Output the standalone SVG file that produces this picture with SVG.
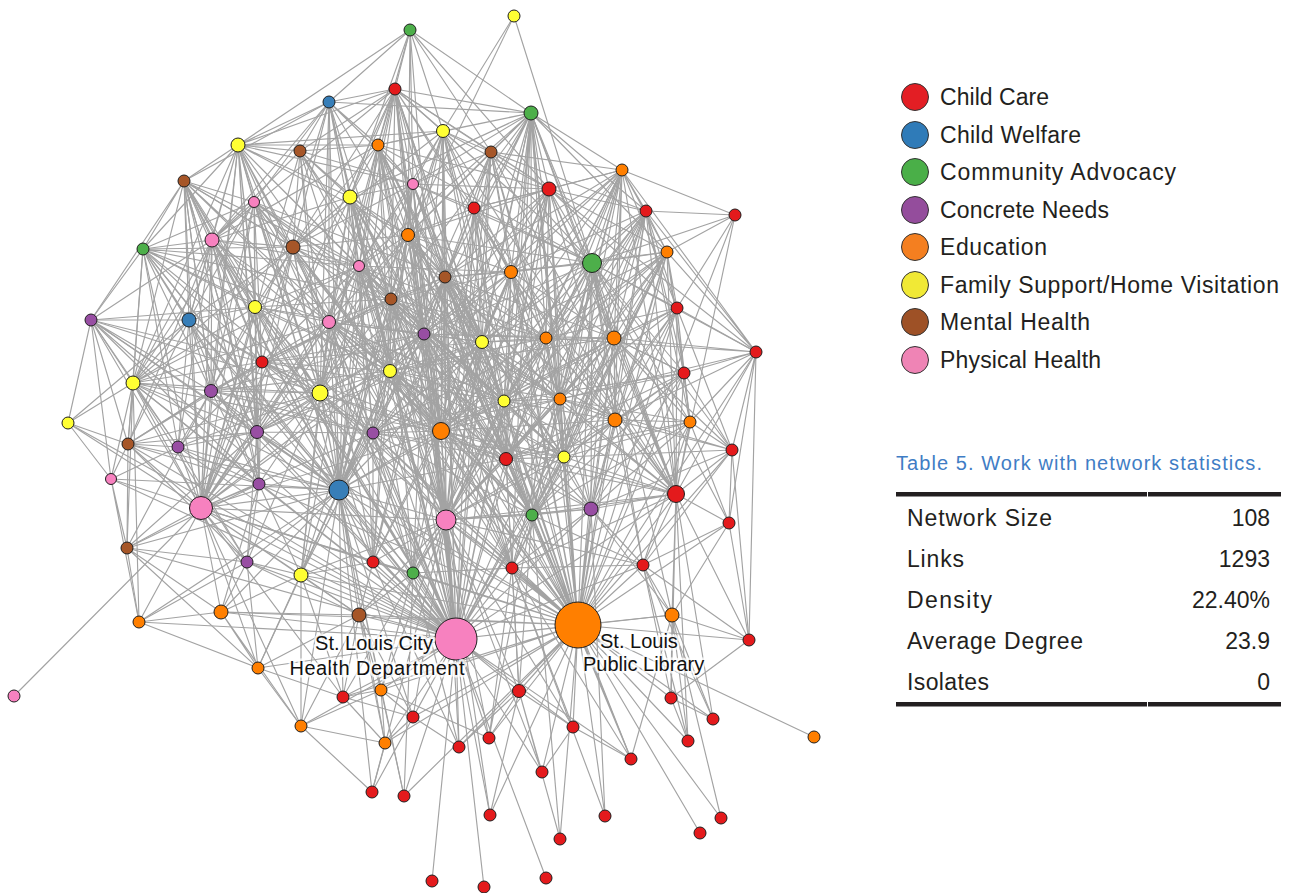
<svg xmlns="http://www.w3.org/2000/svg" width="1289" height="893" viewBox="0 0 1289 893">
<style>
.e{fill:none;stroke:#a3a3a3;stroke-width:1.15;stroke-linejoin:round}
.nd circle{stroke:#1e1e1e;stroke-width:1}
.r{fill:#e41a1c}.b{fill:#377eb8}.g{fill:#4daf4a}.p{fill:#984ea3}.o{fill:#ff7f00}.y{fill:#ffff33}.w{fill:#a65628}.k{fill:#f781bf}
.t{font-family:"Liberation Sans",Arial,sans-serif;fill:#231f20}
.lbl{font-family:"Liberation Sans",Arial,sans-serif;font-size:20px;fill:#111;stroke:#fff;stroke-width:5;stroke-opacity:0.75;stroke-linejoin:round;paint-order:stroke}
.lg circle{stroke:#333;stroke-width:1}
</style>
<rect width="1289" height="893" fill="#fff"/>
<g id="connectors">
<path class="e" d="M456 639L395 89 456 639 329 102 456 639 443 131 456 639 238 145 456 639 300 151 456 639 378 145 456 639 491 152 456 639 184 181 456 639 413 184 456 639 549 189 456 639 350 197 456 639 254 202 456 639 474 208 456 639 212 240 456 639 408 235 456 639 293 247 456 639 143 249 456 639 667 252 456 639 359 266 456 639 511 272 456 639 445 277 456 639 391 299 456 639 255 307 456 639 91 320 456 639 189 320 456 639 329 322 456 639 424 334 456 639 482 342 456 639 546 338 456 639 614 338 456 639 262 362 456 639 390 371 456 639 133 383 456 639 211 391 456 639 320 393 456 639 560 399 456 639 504 401 456 639 68 423 456 639 128 444 456 639 178 447 456 639 257 432 456 639 373 433 456 639 441 431 456 639 506 459 456 639 564 457 456 639 111 479 456 639 259 484 456 639 339 490 456 639 201 508 456 639 446 520 456 639 532 515 456 639 591 509 456 639 676 494 456 639 127 548 456 639 247 562 456 639 301 575 456 639 373 562 456 639 413 573 456 639 512 568 456 639 643 565 456 639 139 622 456 639 221 612 456 639 359 615 456 639 672 615 456 639 578 625 456 639 258 668 456 639 343 697 456 639 381 690 456 639 519 691 456 639 301 726 456 639 413 717 456 639 385 743 456 639 459 747 456 639 489 738 456 639 573 727 456 639 631 759 456 639 542 772 456 639 372 792 456 639 404 796 456 639 490 815 456 639 432 881 456 639 484 887 456 639 546 878"/>
<path class="e" d="M578 625L531 113 578 625 443 131 578 625 378 145 578 625 491 152 578 625 622 170 578 625 413 184 578 625 549 189 578 625 474 208 578 625 646 211 578 625 735 215 578 625 408 235 578 625 293 247 578 625 667 252 578 625 592 263 578 625 511 272 578 625 445 277 578 625 329 322 578 625 677 308 578 625 424 334 578 625 482 342 578 625 546 338 578 625 614 338 578 625 756 352 578 625 262 362 578 625 684 373 578 625 390 371 578 625 320 393 578 625 560 399 578 625 504 401 578 625 615 420 578 625 690 422 578 625 257 432 578 625 373 433 578 625 441 431 578 625 506 459 578 625 564 457 578 625 732 450 578 625 259 484 578 625 339 490 578 625 201 508 578 625 446 520 578 625 532 515 578 625 591 509 578 625 676 494 578 625 729 523 578 625 301 575 578 625 373 562 578 625 413 573 578 625 512 568 578 625 643 565 578 625 221 612 578 625 359 615 578 625 672 615 578 625 749 640 578 625 343 697 578 625 381 690 578 625 519 691 578 625 671 698 578 625 413 717 578 625 385 743 578 625 459 747 578 625 489 738 578 625 573 727 578 625 713 719 578 625 688 741 578 625 814 737 578 625 631 759 578 625 542 772 578 625 404 796 578 625 490 815 578 625 605 816 578 625 560 839 578 625 700 833 578 625 721 818 578 625 395 89 578 625 238 145 578 625 391 299 578 625 359 266"/>
<path class="e" d="M339 490L395 89 339 490 329 102 339 490 238 145 339 490 300 151 339 490 378 145 339 490 184 181 339 490 350 197 339 490 254 202 339 490 212 240 339 490 293 247 339 490 143 249 339 490 359 266 339 490 391 299 339 490 255 307 339 490 91 320 339 490 189 320 339 490 329 322 339 490 424 334 339 490 262 362 339 490 390 371 339 490 133 383 339 490 211 391 339 490 320 393 339 490 128 444 339 490 178 447 339 490 257 432 339 490 373 433 339 490 441 431 339 490 111 479 339 490 259 484 339 490 201 508 339 490 446 520 339 490 127 548 339 490 247 562 339 490 301 575 339 490 373 562 339 490 413 573 339 490 139 622 339 490 221 612 339 490 359 615 339 490 258 668 339 490 343 697 339 490 381 690 339 490 301 726 339 490 413 717 339 490 385 743 339 490 372 792 339 490 404 796 339 490 413 184 339 490 408 235 339 490 445 277 339 490 482 342 339 490 504 401 339 490 506 459 339 490 549 189 339 490 491 152 339 490 443 131 339 490 459 747"/>
<path class="e" d="M201 508L329 102 201 508 238 145 201 508 184 181 201 508 254 202 201 508 212 240 201 508 293 247 201 508 143 249 201 508 255 307 201 508 91 320 201 508 189 320 201 508 262 362 201 508 133 383 201 508 211 391 201 508 320 393 201 508 68 423 201 508 128 444 201 508 178 447 201 508 257 432 201 508 111 479 201 508 259 484 201 508 446 520 201 508 127 548 201 508 247 562 201 508 301 575 201 508 139 622 201 508 221 612 201 508 258 668 201 508 14 696 201 508 359 266 201 508 350 197 201 508 329 322 201 508 390 371 201 508 373 433 201 508 373 562 201 508 413 573 201 508 359 615 201 508 301 726 201 508 395 89 201 508 300 151 201 508 408 235 201 508 441 431 201 508 424 334 201 508 343 697"/>
<path class="e" d="M446 520L395 89 446 520 531 113 446 520 443 131 446 520 378 145 446 520 491 152 446 520 413 184 446 520 549 189 446 520 350 197 446 520 474 208 446 520 408 235 446 520 592 263 446 520 359 266 446 520 511 272 446 520 445 277 446 520 391 299 446 520 329 322 446 520 424 334 446 520 482 342 446 520 546 338 446 520 390 371 446 520 320 393 446 520 560 399 446 520 504 401 446 520 373 433 446 520 441 431 446 520 506 459 446 520 564 457 446 520 532 515 446 520 591 509 446 520 676 494 446 520 301 575 446 520 373 562 446 520 413 573 446 520 512 568 446 520 643 565 446 520 359 615 446 520 343 697 446 520 381 690 446 520 519 691 446 520 413 717 446 520 459 747 446 520 489 738 446 520 542 772 446 520 622 170 446 520 646 211 446 520 293 247 446 520 614 338 446 520 615 420 446 520 372 792 446 520 490 815 446 520 573 727"/>
<path class="e" d="M441 431L410 30 441 431 395 89 441 431 531 113 441 431 443 131 441 431 378 145 441 431 491 152 441 431 413 184 441 431 549 189 441 431 350 197 441 431 474 208 441 431 212 240 441 431 408 235 441 431 293 247 441 431 592 263 441 431 359 266 441 431 511 272 441 431 445 277 441 431 391 299 441 431 329 322 441 431 424 334 441 431 482 342 441 431 546 338 441 431 390 371 441 431 320 393 441 431 560 399 441 431 504 401 441 431 373 433 441 431 506 459 441 431 564 457 441 431 532 515 441 431 591 509 441 431 676 494 441 431 373 562 441 431 413 573 441 431 512 568 441 431 622 170 441 431 667 252 441 431 614 338 441 431 262 362 441 431 211 391 441 431 615 420"/>
<path class="e" d="M592 263L514 16 592 263 531 113 592 263 443 131 592 263 491 152 592 263 622 170 592 263 549 189 592 263 474 208 592 263 646 211 592 263 735 215 592 263 667 252 592 263 511 272 592 263 445 277 592 263 677 308 592 263 482 342 592 263 546 338 592 263 614 338 592 263 756 352 592 263 684 373 592 263 560 399 592 263 504 401 592 263 615 420 592 263 690 422 592 263 506 459 592 263 564 457 592 263 732 450 592 263 532 515 592 263 591 509 592 263 676 494 592 263 729 523 592 263 512 568 592 263 643 565 592 263 672 615 592 263 395 89 592 263 378 145 592 263 413 184 592 263 408 235 592 263 424 334"/>
<path class="e" d="M676 494L531 113 676 494 622 170 676 494 549 189 676 494 646 211 676 494 735 215 676 494 667 252 676 494 677 308 676 494 614 338 676 494 756 352 676 494 684 373 676 494 560 399 676 494 615 420 676 494 690 422 676 494 506 459 676 494 564 457 676 494 732 450 676 494 532 515 676 494 591 509 676 494 729 523 676 494 512 568 676 494 643 565 676 494 672 615 676 494 749 640 676 494 671 698 676 494 713 719 676 494 688 741 676 494 546 338 676 494 482 342 676 494 511 272 676 494 504 401 676 494 491 152 676 494 474 208 676 494 443 131"/>
<path class="e" d="M320 393L395 89 320 393 329 102 320 393 238 145 320 393 300 151 320 393 184 181 320 393 350 197 320 393 254 202 320 393 212 240 320 393 293 247 320 393 359 266 320 393 391 299 320 393 255 307 320 393 91 320 320 393 189 320 320 393 329 322 320 393 424 334 320 393 262 362 320 393 390 371 320 393 133 383 320 393 211 391 320 393 128 444 320 393 178 447 320 393 257 432 320 393 373 433 320 393 259 484 320 393 247 562 320 393 301 575 320 393 373 562 320 393 143 249 320 393 378 145 320 393 413 184 320 393 408 235"/>
<path class="e" d="M531 113L410 30 531 113 395 89 531 113 329 102 531 113 443 131 531 113 378 145 531 113 491 152 531 113 622 170 531 113 413 184 531 113 549 189 531 113 350 197 531 113 474 208 531 113 646 211 531 113 408 235 531 113 667 252 531 113 511 272 531 113 445 277 531 113 482 342 531 113 546 338 531 113 614 338 531 113 560 399 531 113 504 401 531 113 506 459 531 113 564 457 531 113 532 515 531 113 591 509 531 113 512 568 531 113 359 266 531 113 391 299 531 113 424 334"/>
<path class="e" d="M238 145L410 30 238 145 329 102 238 145 300 151 238 145 378 145 238 145 184 181 238 145 350 197 238 145 254 202 238 145 212 240 238 145 293 247 238 145 143 249 238 145 359 266 238 145 391 299 238 145 255 307 238 145 189 320 238 145 329 322 238 145 262 362 238 145 133 383 238 145 211 391 238 145 395 89 238 145 443 131 238 145 413 184 238 145 408 235 238 145 257 432 238 145 259 484"/>
<path class="e" d="M133 383L184 181 133 383 212 240 133 383 293 247 133 383 143 249 133 383 255 307 133 383 91 320 133 383 189 320 133 383 262 362 133 383 211 391 133 383 68 423 133 383 128 444 133 383 178 447 133 383 257 432 133 383 111 479 133 383 259 484 133 383 127 548 133 383 247 562 133 383 139 622 133 383 254 202 133 383 359 266 133 383 329 322 133 383 373 433"/>
<path class="e" d="M293 247L395 89 293 247 329 102 293 247 300 151 293 247 378 145 293 247 184 181 293 247 350 197 293 247 254 202 293 247 212 240 293 247 143 249 293 247 359 266 293 247 391 299 293 247 255 307 293 247 189 320 293 247 329 322 293 247 262 362 293 247 390 371 293 247 211 391 293 247 257 432 293 247 413 184 293 247 408 235 293 247 424 334 293 247 443 131"/>
<path class="e" d="M212 240L329 102 212 240 300 151 212 240 184 181 212 240 254 202 212 240 143 249 212 240 255 307 212 240 91 320 212 240 189 320 212 240 262 362 212 240 211 391 212 240 128 444 212 240 178 447 212 240 257 432 212 240 259 484 212 240 350 197 212 240 359 266 212 240 329 322 212 240 378 145 212 240 395 89"/>
<path class="e" d="M549 189L410 30 549 189 395 89 549 189 443 131 549 189 491 152 549 189 622 170 549 189 413 184 549 189 474 208 549 189 646 211 549 189 667 252 549 189 511 272 549 189 445 277 549 189 677 308 549 189 482 342 549 189 546 338 549 189 614 338 549 189 560 399 549 189 504 401 549 189 506 459 549 189 564 457 549 189 408 235 549 189 378 145 549 189 424 334 549 189 615 420"/>
<path class="e" d="M395 89L410 30 395 89 329 102 395 89 443 131 395 89 300 151 395 89 378 145 395 89 491 152 395 89 413 184 395 89 350 197 395 89 474 208 395 89 408 235 395 89 359 266 395 89 445 277 395 89 391 299 395 89 424 334 395 89 390 371 395 89 482 342 395 89 511 272"/>
<path class="e" d="M329 102L410 30 329 102 300 151 329 102 378 145 329 102 184 181 329 102 350 197 329 102 254 202 329 102 408 235 329 102 359 266 329 102 391 299 329 102 329 322 329 102 390 371 329 102 413 184"/>
<path class="e" d="M443 131L410 30 443 131 514 16 443 131 378 145 443 131 491 152 443 131 413 184 443 131 474 208 443 131 408 235 443 131 359 266 443 131 511 272 443 131 445 277 443 131 424 334 443 131 482 342 443 131 390 371 443 131 504 401"/>
<path class="e" d="M378 145L410 30 378 145 300 151 378 145 413 184 378 145 350 197 378 145 408 235 378 145 359 266 378 145 445 277 378 145 391 299 378 145 424 334 378 145 390 371 378 145 329 322"/>
<path class="e" d="M491 152L622 170 491 152 413 184 491 152 474 208 491 152 646 211 491 152 408 235 491 152 511 272 491 152 445 277 491 152 482 342 491 152 546 338 491 152 560 399"/>
<path class="e" d="M622 170L474 208 622 170 646 211 622 170 735 215 622 170 667 252 622 170 511 272 622 170 677 308 622 170 546 338 622 170 614 338 622 170 560 399 622 170 615 420 622 170 564 457 622 170 532 515"/>
<path class="e" d="M184 181L254 202 184 181 143 249 184 181 255 307 184 181 91 320 184 181 189 320 184 181 262 362 184 181 211 391 184 181 257 432"/>
<path class="e" d="M413 184L350 197 413 184 474 208 413 184 408 235 413 184 359 266 413 184 445 277 413 184 391 299 413 184 424 334 413 184 390 371 413 184 482 342"/>
<path class="e" d="M350 197L408 235 350 197 359 266 350 197 391 299 350 197 329 322 350 197 424 334 350 197 390 371 350 197 373 433"/>
<path class="e" d="M254 202L143 249 254 202 359 266 254 202 255 307 254 202 189 320 254 202 329 322 254 202 262 362 254 202 211 391 254 202 257 432"/>
<path class="e" d="M474 208L408 235 474 208 511 272 474 208 445 277 474 208 424 334 474 208 482 342 474 208 546 338 474 208 560 399 474 208 504 401 474 208 506 459"/>
<path class="e" d="M646 211L735 215 646 211 667 252 646 211 677 308 646 211 546 338 646 211 614 338 646 211 684 373 646 211 560 399 646 211 615 420 646 211 564 457 646 211 690 422"/>
<path class="e" d="M735 215L667 252 735 215 677 308"/>
<path class="e" d="M408 235L359 266 408 235 445 277 408 235 391 299 408 235 329 322 408 235 424 334 408 235 390 371 408 235 373 433 408 235 482 342 408 235 504 401"/>
<path class="e" d="M143 249L255 307 143 249 91 320 143 249 189 320 143 249 262 362 143 249 211 391 143 249 128 444 143 249 178 447 143 249 257 432"/>
<path class="e" d="M667 252L677 308 667 252 614 338 667 252 684 373 667 252 560 399 667 252 615 420 667 252 690 422 667 252 564 457 667 252 532 515 667 252 591 509 667 252 546 338"/>
<path class="e" d="M359 266L391 299 359 266 329 322 359 266 424 334 359 266 390 371 359 266 373 433 359 266 262 362"/>
<path class="e" d="M511 272L445 277 511 272 482 342 511 272 546 338 511 272 560 399 511 272 504 401 511 272 506 459 511 272 564 457"/>
<path class="e" d="M445 277L391 299 445 277 424 334 445 277 482 342 445 277 390 371 445 277 504 401 445 277 373 433 445 277 506 459"/>
<path class="e" d="M391 299L329 322 391 299 424 334 391 299 390 371 391 299 373 433"/>
<path class="e" d="M255 307L189 320 255 307 329 322 255 307 262 362 255 307 211 391 255 307 257 432 255 307 259 484"/>
<path class="e" d="M91 320L189 320 91 320 68 423 91 320 128 444 91 320 111 479 91 320 262 362"/>
<path class="e" d="M189 320L262 362 189 320 211 391 189 320 128 444 189 320 178 447 189 320 257 432 189 320 259 484"/>
<path class="e" d="M329 322L424 334 329 322 262 362 329 322 390 371 329 322 257 432 329 322 373 433"/>
<path class="e" d="M677 308L614 338 677 308 756 352 677 308 684 373 677 308 615 420 677 308 690 422 677 308 732 450"/>
<path class="e" d="M424 334L482 342 424 334 390 371 424 334 504 401 424 334 373 433 424 334 506 459"/>
<path class="e" d="M482 342L546 338 482 342 560 399 482 342 504 401 482 342 506 459 482 342 564 457"/>
<path class="e" d="M546 338L614 338 546 338 560 399 546 338 504 401 546 338 615 420 546 338 564 457 546 338 532 515"/>
<path class="e" d="M614 338L684 373 614 338 560 399 614 338 615 420 614 338 690 422 614 338 564 457 614 338 532 515 614 338 591 509"/>
<path class="e" d="M756 352L684 373 756 352 690 422 756 352 732 450 756 352 729 523 756 352 749 640 756 352 667 252 756 352 646 211 756 352 622 170 756 352 614 338 756 352 615 420 756 352 546 338 756 352 560 399 756 352 549 189"/>
<path class="e" d="M262 362L211 391 262 362 178 447 262 362 257 432 262 362 259 484 262 362 390 371"/>
<path class="e" d="M684 373L615 420 684 373 690 422 684 373 732 450 684 373 564 457 684 373 560 399"/>
<path class="e" d="M390 371L504 401 390 371 257 432 390 371 373 433 390 371 506 459 390 371 373 562"/>
<path class="e" d="M211 391L178 447 211 391 257 432 211 391 259 484 211 391 128 444"/>
<path class="e" d="M560 399L504 401 560 399 615 420 560 399 506 459 560 399 564 457 560 399 532 515 560 399 591 509"/>
<path class="e" d="M504 401L506 459 504 401 564 457 504 401 532 515"/>
<path class="e" d="M615 420L690 422 615 420 564 457 615 420 532 515 615 420 591 509 615 420 643 565"/>
<path class="e" d="M690 422L732 450 690 422 591 509 690 422 729 523 690 422 643 565"/>
<path class="e" d="M68 423L128 444 68 423 111 479 68 423 189 320"/>
<path class="e" d="M128 444L178 447 128 444 111 479 128 444 127 548 128 444 247 562"/>
<path class="e" d="M178 447L257 432 178 447 259 484 178 447 111 479 178 447 247 562"/>
<path class="e" d="M257 432L373 433 257 432 259 484 257 432 247 562"/>
<path class="e" d="M373 433L506 459 373 433 373 562 373 433 413 573"/>
<path class="e" d="M506 459L564 457 506 459 532 515 506 459 512 568"/>
<path class="e" d="M564 457L532 515 564 457 591 509 564 457 512 568"/>
<path class="e" d="M732 450L729 523 732 450 591 509 732 450 643 565"/>
<path class="e" d="M111 479L127 548 111 479 139 622"/>
<path class="e" d="M259 484L247 562 259 484 301 575 259 484 221 612"/>
<path class="e" d="M532 515L591 509 532 515 512 568 532 515 643 565"/>
<path class="e" d="M591 509L512 568 591 509 643 565 591 509 672 615"/>
<path class="e" d="M729 523L643 565 729 523 672 615 729 523 749 640"/>
<path class="e" d="M127 548L247 562 127 548 139 622 127 548 221 612 127 548 258 668"/>
<path class="e" d="M247 562L301 575 247 562 139 622 247 562 221 612 247 562 359 615 247 562 258 668"/>
<path class="e" d="M301 575L373 562 301 575 221 612 301 575 359 615 301 575 258 668 301 575 343 697 301 575 301 726"/>
<path class="e" d="M373 562L413 573 373 562 359 615"/>
<path class="e" d="M413 573L359 615 413 573 512 568"/>
<path class="e" d="M512 568L643 565 512 568 519 691"/>
<path class="e" d="M643 565L672 615 643 565 671 698"/>
<path class="e" d="M139 622L221 612 139 622 258 668"/>
<path class="e" d="M221 612L359 615 221 612 258 668 221 612 301 726"/>
<path class="e" d="M359 615L258 668 359 615 343 697 359 615 381 690 359 615 301 726 359 615 413 717 359 615 385 743"/>
<path class="e" d="M672 615L749 640 672 615 671 698 672 615 713 719 672 615 688 741 672 615 631 759 672 615 721 818"/>
<path class="e" d="M749 640L732 450 749 640 643 565 749 640 671 698"/>
<path class="e" d="M258 668L301 726 258 668 343 697"/>
<path class="e" d="M343 697L413 717 343 697 385 743 343 697 381 690"/>
<path class="e" d="M381 690L413 717 381 690 385 743 381 690 489 738 381 690 413 573"/>
<path class="e" d="M519 691L489 738 519 691 573 727 519 691 459 747 519 691 542 772 519 691 560 839 519 691 532 515 519 691 506 459 519 691 490 815"/>
<path class="e" d="M671 698L713 719 671 698 688 741"/>
<path class="e" d="M301 726L372 792 301 726 385 743 301 726 381 690"/>
<path class="e" d="M413 717L385 743 413 717 459 747"/>
<path class="e" d="M459 747L413 573"/>
<path class="e" d="M489 738L512 568 489 738 532 515"/>
<path class="e" d="M573 727L631 759 573 727 542 772 573 727 512 568"/>
<path class="e" d="M713 719L643 565"/>
<path class="e" d="M688 741L643 565"/>
<path class="e" d="M631 759L512 568 631 759 532 515 631 759 506 459"/>
<path class="e" d="M372 792L385 743"/>
<path class="e" d="M404 796L413 573 404 796 381 690"/>
<path class="e" d="M605 816L591 509 605 816 512 568"/>
<path class="e" d="M560 839L532 515"/>
<path class="e" d="M410 30L413 184 410 30 350 197 410 30 491 152 410 30 408 235"/>
<path class="e" d="M514 16L408 235"/>
<path class="e" d="M506 459L359 266 506 459 391 299 506 459 329 322 506 459 413 184 506 459 378 145 506 459 408 235 506 459 350 197 506 459 320 393"/>
<path class="e" d="M504 401L359 266 504 401 391 299 504 401 329 322 504 401 350 197 504 401 378 145 504 401 413 184 504 401 262 362"/>
<path class="e" d="M482 342L359 266 482 342 391 299 482 342 329 322 482 342 350 197 482 342 378 145 482 342 390 371 482 342 373 433"/>
<path class="e" d="M373 433L511 272 373 433 482 342 373 433 546 338 373 433 560 399 373 433 504 401 373 433 564 457 373 433 532 515"/>
<path class="e" d="M390 371L511 272 390 371 546 338 390 371 560 399 390 371 564 457 390 371 532 515 390 371 591 509 390 371 614 338"/>
<path class="e" d="M424 334L511 272 424 334 546 338 424 334 560 399 424 334 564 457 424 334 532 515 424 334 591 509 424 334 614 338"/>
<path class="e" d="M445 277L546 338 445 277 560 399 445 277 564 457 445 277 532 515 445 277 591 509 445 277 614 338"/>
<path class="e" d="M408 235L511 272 408 235 546 338 408 235 560 399 408 235 564 457 408 235 532 515 408 235 506 459"/>
<path class="e" d="M329 322L482 342 329 322 504 401 329 322 564 457 329 322 532 515 329 322 441 431"/>
<path class="e" d="M359 266L511 272 359 266 546 338 359 266 564 457 359 266 560 399"/>
<path class="e" d="M391 299L511 272 391 299 546 338 391 299 560 399 391 299 564 457 391 299 532 515"/>
<path class="e" d="M532 515L390 371 532 515 350 197 532 515 378 145 532 515 395 89"/>
<path class="e" d="M512 568L424 334 512 568 390 371 512 568 373 433 512 568 391 299 512 568 445 277 512 568 408 235"/>
<path class="e" d="M373 562L359 266 373 562 391 299 373 562 329 322 373 562 424 334 373 562 445 277 373 562 482 342"/>
<path class="e" d="M413 573L359 266 413 573 391 299 413 573 329 322 413 573 424 334 413 573 445 277 413 573 482 342 413 573 504 401"/>
<path class="e" d="M301 575L359 266 301 575 391 299 301 575 329 322 301 575 424 334 301 575 390 371 301 575 373 433"/>
<path class="e" d="M257 432L424 334 257 432 482 342 257 432 445 277 257 432 359 266"/>
<path class="e" d="M262 362L424 334 262 362 482 342 262 362 445 277 262 362 391 299 262 362 373 433"/>
<path class="e" d="M211 391L390 371 211 391 373 433 211 391 424 334 211 391 391 299"/>
<path class="e" d="M255 307L390 371 255 307 373 433 255 307 424 334 255 307 391 299 255 307 359 266"/>
<path class="e" d="M254 202L391 299 254 202 424 334 254 202 390 371 254 202 445 277"/>
<path class="e" d="M184 181L329 322 184 181 359 266 184 181 390 371 184 181 293 247"/>
<path class="e" d="M300 151L359 266 300 151 391 299 300 151 424 334 300 151 445 277 300 151 413 184 300 151 350 197"/>
<path class="e" d="M614 338L482 342 614 338 504 401 614 338 506 459 614 338 511 272"/>
<path class="e" d="M615 420L482 342 615 420 504 401 615 420 506 459 615 420 511 272 615 420 445 277"/>
<path class="e" d="M622 170L482 342 622 170 504 401 622 170 506 459 622 170 445 277 622 170 424 334"/>
<path class="e" d="M646 211L504 401 646 211 506 459 646 211 482 342 646 211 511 272 646 211 532 515"/>
<path class="e" d="M667 252L504 401 667 252 506 459 667 252 482 342 667 252 511 272 667 252 512 568"/>
<path class="e" d="M677 308L560 399 677 308 564 457 677 308 532 515 677 308 591 509 677 308 504 401 677 308 546 338"/>
<path class="e" d="M684 373L591 509 684 373 532 515 684 373 506 459 684 373 504 401 684 373 614 338"/>
<path class="e" d="M690 422L564 457 690 422 506 459 690 422 532 515 690 422 560 399"/>
<path class="e" d="M732 450L564 457 732 450 560 399 732 450 615 420 732 450 614 338"/>
<path class="e" d="M143 249L329 322 143 249 359 266 143 249 391 299 143 249 390 371"/>
<path class="e" d="M91 320L211 391 91 320 257 432 91 320 259 484 91 320 178 447 91 320 255 307"/>
<path class="e" d="M184 181L211 391 184 181 257 432 184 181 259 484"/>
<path class="e" d="M128 444L211 391 128 444 257 432 128 444 259 484 128 444 262 362"/>
<path class="e" d="M127 548L259 484 127 548 257 432 127 548 211 391"/>
</g>
<g id="nodes" class="nd">
<g id="n1"><circle class="g" cx="410" cy="30" r="6"/></g>
<g id="n2"><circle class="y" cx="514" cy="16" r="6"/></g>
<g id="n3"><circle class="r" cx="395" cy="89" r="6"/></g>
<g id="n4"><circle class="b" cx="329" cy="102" r="6"/></g>
<g id="n5"><circle class="g" cx="531" cy="113" r="7"/></g>
<g id="n6"><circle class="y" cx="443" cy="131" r="6.5"/></g>
<g id="n7"><circle class="y" cx="238" cy="145" r="7"/></g>
<g id="n8"><circle class="w" cx="300" cy="151" r="6"/></g>
<g id="n9"><circle class="o" cx="378" cy="145" r="6"/></g>
<g id="n10"><circle class="w" cx="491" cy="152" r="6"/></g>
<g id="n11"><circle class="o" cx="622" cy="170" r="6"/></g>
<g id="n12"><circle class="w" cx="184" cy="181" r="6"/></g>
<g id="n13"><circle class="k" cx="413" cy="184" r="5.5"/></g>
<g id="n14"><circle class="r" cx="549" cy="189" r="7"/></g>
<g id="n15"><circle class="y" cx="350" cy="197" r="7"/></g>
<g id="n16"><circle class="k" cx="254" cy="202" r="5.5"/></g>
<g id="n17"><circle class="r" cx="474" cy="208" r="6"/></g>
<g id="n18"><circle class="r" cx="646" cy="211" r="6"/></g>
<g id="n19"><circle class="r" cx="735" cy="215" r="6"/></g>
<g id="n20"><circle class="k" cx="212" cy="240" r="7"/></g>
<g id="n21"><circle class="o" cx="408" cy="235" r="6.5"/></g>
<g id="n22"><circle class="w" cx="293" cy="247" r="7"/></g>
<g id="n23"><circle class="g" cx="143" cy="249" r="6"/></g>
<g id="n24"><circle class="o" cx="667" cy="252" r="6"/></g>
<g id="n25"><circle class="g" cx="592" cy="263" r="9.5"/></g>
<g id="n26"><circle class="k" cx="359" cy="266" r="5.5"/></g>
<g id="n27"><circle class="o" cx="511" cy="272" r="6.5"/></g>
<g id="n28"><circle class="w" cx="445" cy="277" r="6"/></g>
<g id="n29"><circle class="w" cx="391" cy="299" r="6"/></g>
<g id="n30"><circle class="y" cx="255" cy="307" r="6.5"/></g>
<g id="n31"><circle class="p" cx="91" cy="320" r="6"/></g>
<g id="n32"><circle class="b" cx="189" cy="320" r="7"/></g>
<g id="n33"><circle class="k" cx="329" cy="322" r="6.5"/></g>
<g id="n34"><circle class="r" cx="677" cy="308" r="6"/></g>
<g id="n35"><circle class="p" cx="424" cy="334" r="6"/></g>
<g id="n36"><circle class="y" cx="482" cy="342" r="6.5"/></g>
<g id="n37"><circle class="o" cx="546" cy="338" r="6"/></g>
<g id="n38"><circle class="o" cx="614" cy="338" r="7"/></g>
<g id="n39"><circle class="r" cx="756" cy="352" r="6"/></g>
<g id="n40"><circle class="r" cx="262" cy="362" r="6"/></g>
<g id="n41"><circle class="r" cx="684" cy="373" r="6"/></g>
<g id="n42"><circle class="y" cx="390" cy="371" r="6.5"/></g>
<g id="n43"><circle class="y" cx="133" cy="383" r="7"/></g>
<g id="n44"><circle class="p" cx="211" cy="391" r="6.5"/></g>
<g id="n45"><circle class="y" cx="320" cy="393" r="8"/></g>
<g id="n46"><circle class="o" cx="560" cy="399" r="6"/></g>
<g id="n47"><circle class="y" cx="504" cy="401" r="6"/></g>
<g id="n48"><circle class="o" cx="615" cy="420" r="7"/></g>
<g id="n49"><circle class="o" cx="690" cy="422" r="6"/></g>
<g id="n50"><circle class="y" cx="68" cy="423" r="6"/></g>
<g id="n51"><circle class="w" cx="128" cy="444" r="6"/></g>
<g id="n52"><circle class="p" cx="178" cy="447" r="6"/></g>
<g id="n53"><circle class="p" cx="257" cy="432" r="6.5"/></g>
<g id="n54"><circle class="p" cx="373" cy="433" r="6"/></g>
<g id="n55"><circle class="o" cx="441" cy="431" r="8.5"/></g>
<g id="n56"><circle class="r" cx="506" cy="459" r="6.5"/></g>
<g id="n57"><circle class="y" cx="564" cy="457" r="6"/></g>
<g id="n58"><circle class="r" cx="732" cy="450" r="6"/></g>
<g id="n59"><circle class="k" cx="111" cy="479" r="5.5"/></g>
<g id="n60"><circle class="p" cx="259" cy="484" r="6"/></g>
<g id="n61"><circle class="b" cx="339" cy="490" r="10"/></g>
<g id="n62"><circle class="k" cx="201" cy="508" r="11.5"/></g>
<g id="n63"><circle class="k" cx="446" cy="520" r="10"/></g>
<g id="n64"><circle class="g" cx="532" cy="515" r="6"/></g>
<g id="n65"><circle class="p" cx="591" cy="509" r="7"/></g>
<g id="n66"><circle class="r" cx="676" cy="494" r="8.5"/></g>
<g id="n67"><circle class="r" cx="729" cy="523" r="6"/></g>
<g id="n68"><circle class="w" cx="127" cy="548" r="6"/></g>
<g id="n69"><circle class="p" cx="247" cy="562" r="6"/></g>
<g id="n70"><circle class="y" cx="301" cy="575" r="7"/></g>
<g id="n71"><circle class="r" cx="373" cy="562" r="6"/></g>
<g id="n72"><circle class="g" cx="413" cy="573" r="6"/></g>
<g id="n73"><circle class="r" cx="512" cy="568" r="6"/></g>
<g id="n74"><circle class="r" cx="643" cy="565" r="6"/></g>
<g id="n75"><circle class="o" cx="139" cy="622" r="6"/></g>
<g id="n76"><circle class="o" cx="221" cy="612" r="7"/></g>
<g id="n77"><circle class="w" cx="359" cy="615" r="7"/></g>
<g id="n78"><circle class="o" cx="672" cy="615" r="7"/></g>
<g id="n81"><circle class="r" cx="749" cy="640" r="6"/></g>
<g id="n82"><circle class="o" cx="258" cy="668" r="6"/></g>
<g id="n83"><circle class="k" cx="14" cy="696" r="6"/></g>
<g id="n84"><circle class="r" cx="343" cy="697" r="6"/></g>
<g id="n85"><circle class="o" cx="381" cy="690" r="6"/></g>
<g id="n86"><circle class="r" cx="519" cy="691" r="6.5"/></g>
<g id="n87"><circle class="r" cx="671" cy="698" r="6"/></g>
<g id="n88"><circle class="o" cx="301" cy="726" r="6"/></g>
<g id="n89"><circle class="r" cx="413" cy="717" r="6"/></g>
<g id="n90"><circle class="o" cx="385" cy="743" r="6"/></g>
<g id="n91"><circle class="r" cx="459" cy="747" r="6"/></g>
<g id="n92"><circle class="r" cx="489" cy="738" r="6"/></g>
<g id="n93"><circle class="r" cx="573" cy="727" r="6"/></g>
<g id="n94"><circle class="r" cx="713" cy="719" r="6"/></g>
<g id="n95"><circle class="r" cx="688" cy="741" r="6"/></g>
<g id="n96"><circle class="o" cx="814" cy="737" r="6"/></g>
<g id="n97"><circle class="r" cx="631" cy="759" r="6"/></g>
<g id="n98"><circle class="r" cx="542" cy="772" r="6"/></g>
<g id="n99"><circle class="r" cx="372" cy="792" r="6"/></g>
<g id="n100"><circle class="r" cx="404" cy="796" r="6"/></g>
<g id="n101"><circle class="r" cx="490" cy="815" r="6"/></g>
<g id="n102"><circle class="r" cx="605" cy="816" r="6"/></g>
<g id="n103"><circle class="r" cx="560" cy="839" r="6"/></g>
<g id="n104"><circle class="r" cx="700" cy="833" r="6"/></g>
<g id="n105"><circle class="r" cx="721" cy="818" r="6"/></g>
<g id="n106"><circle class="r" cx="432" cy="881" r="6"/></g>
<g id="n107"><circle class="r" cx="484" cy="887" r="6"/></g>
<g id="n108"><circle class="r" cx="546" cy="878" r="6"/></g>
<g id="n79"><circle class="k" cx="456" cy="639" r="21"/><text class="lbl" x="374" y="650" text-anchor="middle">St. Louis City</text><text class="lbl" x="377" y="675" text-anchor="middle" textLength="175">Health Department</text></g>
<g id="n80"><circle class="o" cx="578" cy="625" r="23"/><text class="lbl" x="600" y="648">St. Louis</text><text class="lbl" x="583" y="671">Public Library</text></g>
</g>
<g id="legend" class="lg">
<circle cx="915" cy="97" r="13.5" fill="#e31e24"/><text class="t" x="940" y="105" font-size="23" textLength="109">Child Care</text>
<circle cx="915" cy="135" r="13.5" fill="#2f7bb8"/><text class="t" x="940" y="143" font-size="23" textLength="141">Child Welfare</text>
<circle cx="915" cy="172" r="13.5" fill="#4aaf48"/><text class="t" x="940" y="180" font-size="23" textLength="236">Community Advocacy</text>
<circle cx="915" cy="210" r="13.5" fill="#944d9c"/><text class="t" x="940" y="218" font-size="23" textLength="169">Concrete Needs</text>
<circle cx="915" cy="247" r="13.5" fill="#f47f20"/><text class="t" x="940" y="255" font-size="23" textLength="107">Education</text>
<circle cx="915" cy="285" r="13.5" fill="#f1e935"/><text class="t" x="940" y="293" font-size="23" textLength="339">Family Support/Home Visitation</text>
<circle cx="915" cy="322" r="13.5" fill="#9e5126"/><text class="t" x="940" y="330" font-size="23" textLength="150">Mental Health</text>
<circle cx="915" cy="360" r="13.5" fill="#ef84b5"/><text class="t" x="940" y="368" font-size="23" textLength="161">Physical Health</text>
</g>
<g id="table">
<text x="896" y="470" font-family="Liberation Sans, Arial, sans-serif" font-size="20" fill="#3f7dc5" textLength="366">Table 5. Work with network statistics.</text>
<rect x="896" y="492" width="251" height="4.5" fill="#231f20"/>
<rect x="1148" y="492" width="133" height="4.5" fill="#231f20"/>
<rect x="896" y="702" width="251" height="4.5" fill="#231f20"/>
<rect x="1148" y="702" width="133" height="4.5" fill="#231f20"/>
<g class="t" font-size="23">
<text x="907" y="526" textLength="145">Network Size</text><text x="1270" y="526" text-anchor="end">108</text>
<text x="907" y="567" textLength="57">Links</text><text x="1270" y="567" text-anchor="end">1293</text>
<text x="907" y="608" textLength="85">Density</text><text x="1270" y="608" text-anchor="end">22.40%</text>
<text x="907" y="649" textLength="176">Average Degree</text><text x="1270" y="649" text-anchor="end">23.9</text>
<text x="907" y="690" textLength="82">Isolates</text><text x="1270" y="690" text-anchor="end">0</text>
</g>
</g>
</svg>
